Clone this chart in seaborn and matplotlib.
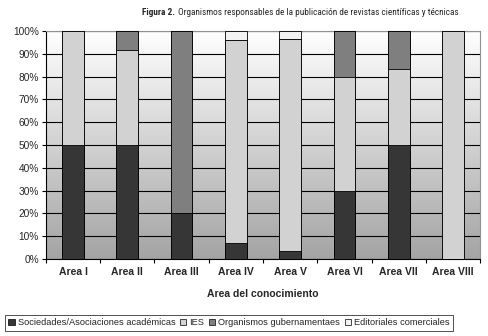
import matplotlib
matplotlib.use("Agg")
from matplotlib import pyplot as plt
from matplotlib import font_manager
from matplotlib.patches import Patch
import seaborn as sns
import numpy as np

areas = ["Area I", "Area II", "Area III", "Area IV", "Area V", "Area VI", "Area VII", "Area VIII"]
sociedades = [50, 50, 20, 7, 3.5, 30, 50, 0]
ies = [50, 41.5, 0, 89, 93, 50, 33.3, 100]
gubernamentales = [0, 8.5, 80, 0, 0, 20, 16.7, 0]
editoriales = [0, 0, 0, 4, 3.5, 0, 0, 0]
series_names = ["Sociedades/Asociaciones académicas", "IES", "Organismos gubernamentaes", "Editoriales comerciales"]
colors = ["#363636", "#d2d2d2", "#7f7f7f", "#f2f2f2"]

sns.set_style("white")
names = {f.name for f in font_manager.fontManager.ttflist}
narrow = "Liberation Sans"
for cand in ["Liberation Sans Narrow", "DejaVu Sans Condensed", "Roboto Condensed", "Open Sans Condensed"]:
    if cand in names:
        narrow = cand
        break
plt.rcParams["font.family"] = ["Liberation Sans", "DejaVu Sans"]

fig = plt.figure(figsize=(4.88, 3.36), dpi=100)
ax = fig.add_axes([0.094, 0.229, 0.890, 0.679])

# gradient background
grad = np.linspace(0, 1, 256).reshape(-1, 1)
ax.imshow(grad, extent=[-0.5, len(areas) - 0.5, 0, 100], aspect="auto",
          cmap=matplotlib.colors.LinearSegmentedColormap.from_list("g", ["#a4a4a4", "#ffffff"]),
          origin="lower", zorder=0)

layers = [sociedades, ies, gubernamentales, editoriales]
cum = np.cumsum(np.array(layers), axis=0)
for i in range(3, -1, -1):
    sns.barplot(x=areas, y=cum[i], color=colors[i], width=0.4, edgecolor="black",
                linewidth=0.6, saturation=1, ax=ax, zorder=3)

ax.set_xlim(-0.5, len(areas) - 0.5)
ax.set_ylim(0, 100)
ax.set_yticks(np.arange(0, 101, 10))
ax.set_yticklabels([f"{v}%" for v in range(0, 101, 10)], fontsize=7.3)
ax.yaxis.grid(True, color="black", linewidth=0.8, zorder=1)
ax.set_axisbelow(True)
ax.tick_params(axis="y", length=3, width=0.8, color="black", pad=2, left=True)
ax.tick_params(axis="x", length=0, pad=6)
ax.set_xticks(np.arange(-0.5, len(areas)), minor=True)
ax.tick_params(axis="x", which="minor", length=3, width=0.8, color="black", bottom=True)
for lab in ax.get_xticklabels():
    lab.set_fontweight("bold")
    lab.set_fontsize(7.5)
ax.set_xlabel("Area del conocimiento", fontsize=7.5, fontweight="bold", labelpad=8)
ax.set_ylabel("")
for s in ["left", "bottom"]:
    ax.spines[s].set_color("black")
    ax.spines[s].set_linewidth(0.8)
for s in ["top", "right"]:
    ax.spines[s].set_color("#909090")
    ax.spines[s].set_linewidth(0.8)

# title in two parts: bold figure number, then plain text, fitted to span x 142..458 px
x_left, x_right = 142, 458
fs = 8.5
t1 = fig.text(x_left / 488, 0.962, "Figura 2.", fontsize=fs, fontweight="bold", family=narrow,
              ha="left", va="center")
t2 = fig.text(0.5, 0.962, "Organismos responsables de la publicación de revistas científicas y técnicas",
              fontsize=fs, family=narrow, ha="left", va="center")
fig.canvas.draw()
total = t1.get_window_extent().width + 3 + t2.get_window_extent().width
fs = fs * (x_right - x_left) / total
t1.set_fontsize(fs)
t2.set_fontsize(fs)
fig.canvas.draw()
t2.set_x((t1.get_window_extent().x1 + 3) / fig.bbox.width)

handles = [Patch(facecolor=c, edgecolor="black", linewidth=0.5) for c in colors]
leg = fig.legend(handles, series_names, loc="center", bbox_to_anchor=(0.469, 0.039), ncol=4,
                 fontsize=6.7, frameon=True, fancybox=False, handlelength=0.7, handleheight=0.7,
                 handletextpad=0.3, columnspacing=0.5, borderpad=0.35, borderaxespad=0)
leg.get_frame().set_edgecolor("black")
leg.get_frame().set_linewidth(0.6)

plt.savefig("out.png", dpi=100)
